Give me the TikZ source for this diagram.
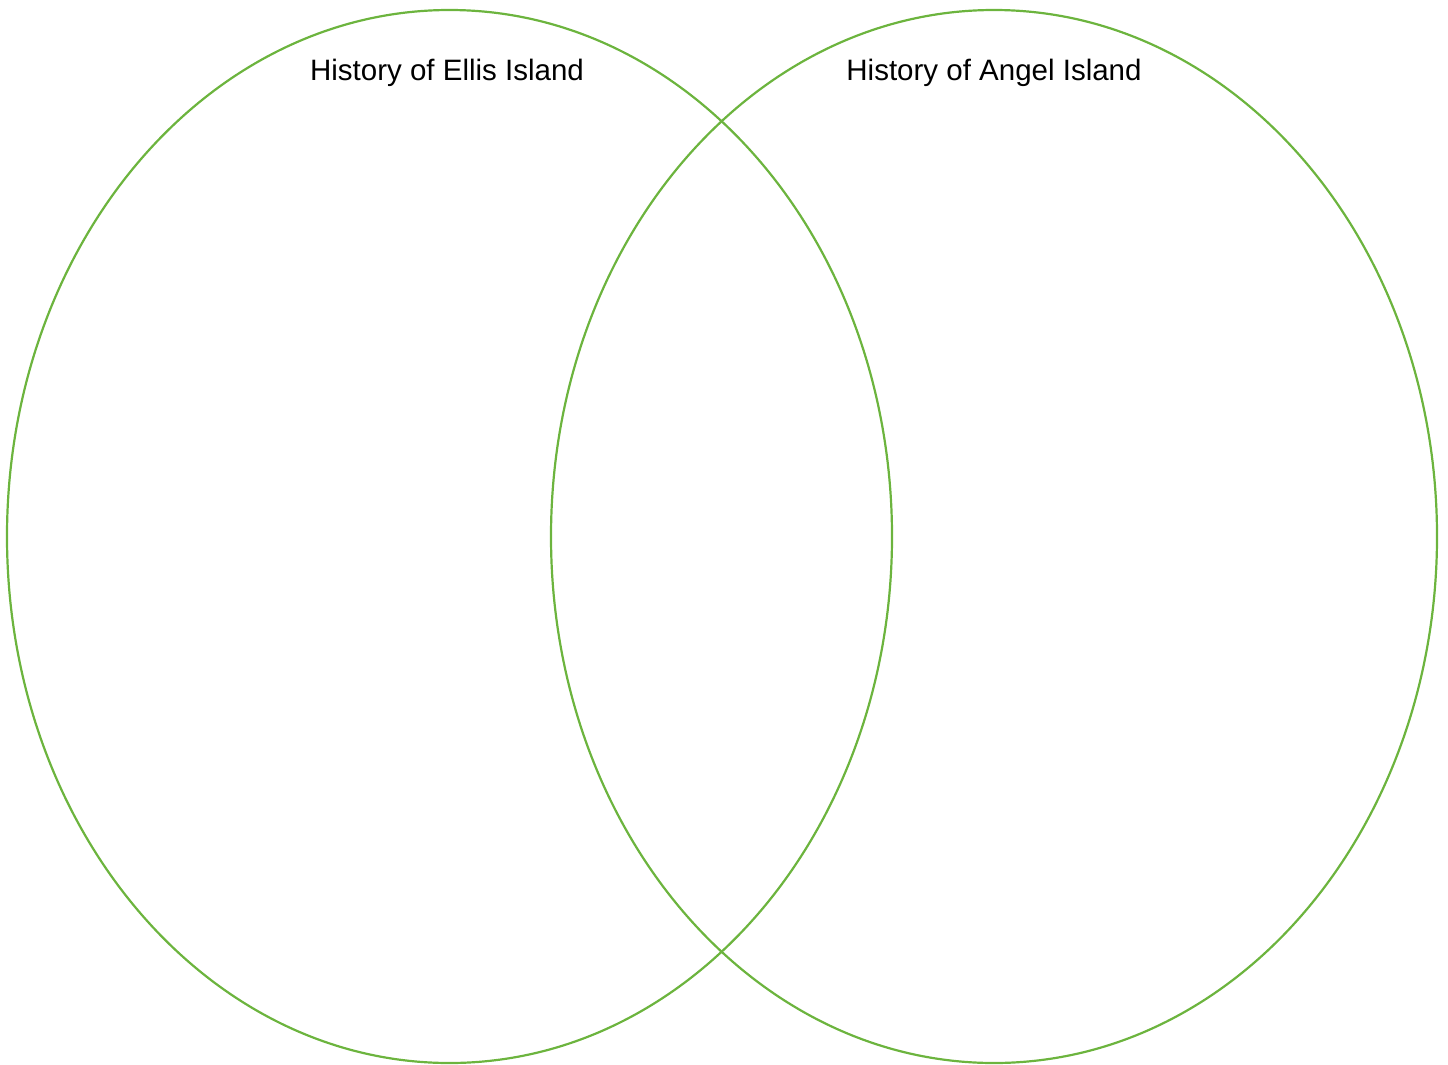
\documentclass[tikz,border=0pt]{standalone}
\usepackage{fontspec}
\setmainfont{Liberation Sans}
\usetikzlibrary{shapes.geometric}

\begin{document}
\begin{tikzpicture}[x=1pt, y=-1pt]
    \definecolor{vennline}{RGB}{108,180,62}

    \useasboundingbox (0,0) rectangle (1448,1065);

    % sets
    \node[ellipse, draw=vennline, line width=2.2pt, minimum width=885pt, minimum height=1053pt, inner sep=0pt] (ellis) at (449.5,536.5) {};
    \node[ellipse, draw=vennline, line width=2.2pt, minimum width=886pt, minimum height=1053pt, inner sep=0pt] (angel) at (994,536.5) {};

    % titles
    \node[font=\fontsize{29.5}{34}\selectfont, inner sep=0pt] (ellistitle) at (447,73) {History of Ellis Island};
    \node[font=\fontsize{29.5}{34}\selectfont, inner sep=0pt] (angeltitle) at (994,73) {History of Angel Island};
\end{tikzpicture}
\end{document}
